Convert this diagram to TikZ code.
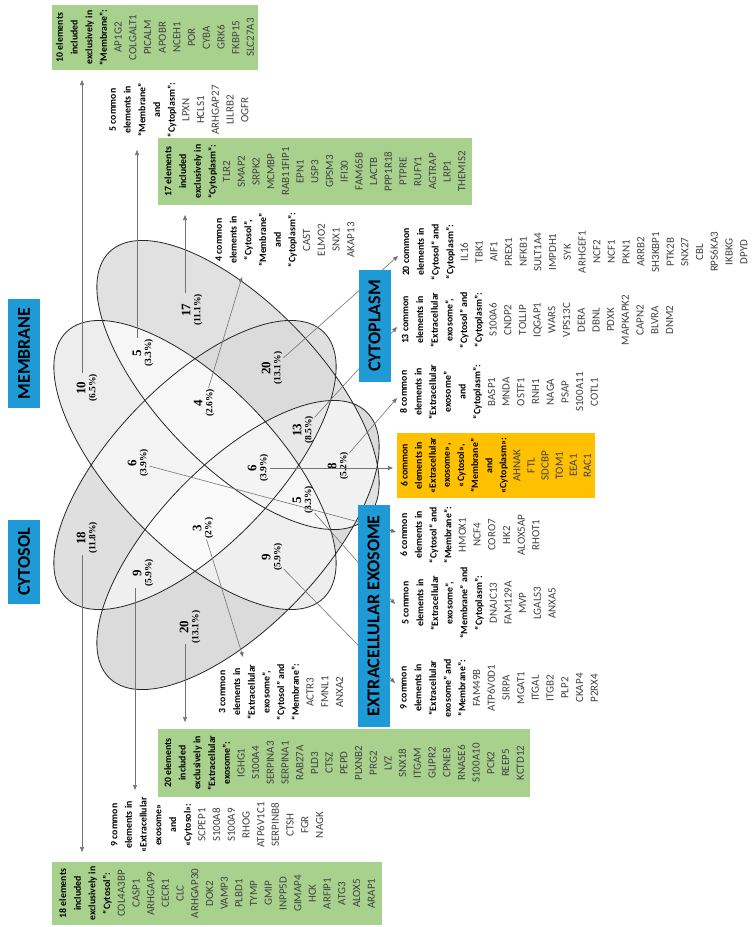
\documentclass[tikz,border=0pt]{standalone}
\usepackage{fontspec}
\setmainfont{Carlito}
\newfontfamily\numfont{Liberation Serif}
\usepackage{tikz}
\usetikzlibrary{arrows.meta}
\definecolor{setblue}{RGB}{30,155,215}
\definecolor{boxgreen}{RGB}{169,209,142}
\definecolor{boxorange}{RGB}{255,192,0}
\definecolor{genegray}{RGB}{64,64,64}
\newcommand{\hd}[1]{{\bfseries\color{black}\fontsize{9.8}{14.7}\selectfont #1}}
% the four ellipses as closed curves
\newcommand{\ExoEll}{(366.5,411.9) .. controls (398.7,443.0) and (367.3,527.8) .. (296.3,601.3) .. controls (225.3,674.8) and (141.7,709.2) .. (109.5,678.1) .. controls (77.3,647.0) and (108.7,562.2) .. (179.7,488.7) .. controls (250.7,415.2) and (334.3,380.8) .. cycle}
\newcommand{\CsEll}{(323.5,331.9) .. controls (355.7,363.0) and (324.3,447.8) .. (253.3,521.3) .. controls (182.3,594.8) and (98.7,629.2) .. (66.5,598.1) .. controls (34.3,567.0) and (65.7,482.2) .. (136.7,408.7) .. controls (207.7,335.2) and (291.3,300.8) .. cycle}
\newcommand{\MemEll}{(323.5,598.1) .. controls (355.7,567.0) and (324.3,482.2) .. (253.3,408.7) .. controls (182.3,335.2) and (98.7,300.8) .. (66.5,331.9) .. controls (34.3,363.0) and (65.7,447.8) .. (136.7,521.3) .. controls (207.7,594.8) and (291.3,629.2) .. cycle}
\newcommand{\CpEll}{(366.5,518.1) .. controls (398.7,487.0) and (367.3,402.2) .. (296.3,328.7) .. controls (225.3,255.2) and (141.7,220.8) .. (109.5,251.9) .. controls (77.3,283.0) and (108.7,367.8) .. (179.7,441.3) .. controls (250.7,514.8) and (334.3,549.2) .. cycle}
\newcommand{\vcell}[5]{%
  \begin{scope}
    \ifnum#1=1 \clip \ExoEll; \fi
    \ifnum#2=1 \clip \CsEll; \fi
    \ifnum#3=1 \clip \MemEll; \fi
    \ifnum#4=1 \clip \CpEll; \fi
    \fill[black!#5] (0,0) rectangle (754,927);
  \end{scope}}

\begin{document}
\begin{tikzpicture}[x=1pt, y=-1pt,
  num/.style={rotate=90, align=center, inner sep=1pt, font=\numfont\bfseries\fontsize{13}{10}\selectfont},
  lead/.style={draw=black!55, line width=0.6pt, -{Triangle[length=5pt,width=4pt]}},
  setname/.style={rotate=90, fill=setblue, inner sep=0pt, minimum height=32pt, font=\bfseries\fontsize{18}{22}\selectfont},
  genes/.style={rotate=90, align=center, inner sep=0pt, text=genegray, font=\fontsize{11}{14.7}\selectfont},
  greenbox/.style={genes, fill=boxgreen}]

\useasboundingbox (0,0) rectangle (754,927);

% Venn regions (Exo, Cytosol, Membrane, Cytoplasm), painted from single sets up, darker = more elements
\vcell{1}{0}{0}{0}{14}
\vcell{0}{1}{0}{0}{12.6}
\vcell{0}{0}{1}{0}{7}
\vcell{0}{0}{0}{1}{11.9}
\vcell{1}{1}{0}{0}{6.3}
\vcell{1}{0}{1}{0}{6.3}
\vcell{1}{0}{0}{1}{5.6}
\vcell{0}{1}{1}{0}{4.2}
\vcell{0}{1}{0}{1}{14}
\vcell{0}{0}{1}{1}{3.5}
\vcell{1}{1}{1}{0}{2.1}
\vcell{1}{1}{0}{1}{9.1}
\vcell{1}{0}{1}{1}{3.5}
\vcell{0}{1}{1}{1}{2.8}
\vcell{1}{1}{1}{1}{4.2}
\draw[line width=0.8pt, black!85] \ExoEll \CsEll \MemEll \CpEll;

\node[num] (n18) at (87,538) {18\\{\fontsize{9.5}{10}\selectfont(11.8\%)}};
\node[num] (n10) at (87,388) {10\\{\fontsize{9.5}{10}\selectfont(6.5\%)}};
\node[num] (n17) at (192,310) {17\\{\fontsize{9.5}{10}\selectfont(11.1\%)}};
\node[num] (n20e) at (190,627) {20\\{\fontsize{9.5}{10}\selectfont(13.1\%)}};
\node[num] (n5a) at (143,353) {5\\{\fontsize{9.5}{10}\selectfont(3.3\%)}};
\node[num] (n9a) at (143,573) {9\\{\fontsize{9.5}{10}\selectfont(5.9\%)}};
\node[num] (n20c) at (272,368) {20\\{\fontsize{9.5}{10}\selectfont(13.1\%)}};
\node[num] (n4) at (204,403) {4\\{\fontsize{9.5}{10}\selectfont(2.6\%)}};
\node[num] (n6a) at (138,463) {6\\{\fontsize{9.5}{10}\selectfont(3.9\%)}};
\node[num] (n6b) at (258,468) {6\\{\fontsize{9.5}{10}\selectfont(3.9\%)}};
\node[num] (n13) at (303,430) {13\\{\fontsize{9.5}{10}\selectfont(8.5\%)}};
\node[num] (n8) at (338,466) {8\\{\fontsize{9.5}{10}\selectfont(5.2\%)}};
\node[num] (n5b) at (303,500) {5\\{\fontsize{9.5}{10}\selectfont(3.3\%)}};
\node[num] (n3) at (203,528) {3\\{\fontsize{9.5}{10}\selectfont(2\%)}};
\node[num] (n9b) at (272,557) {9\\{\fontsize{9.5}{10}\selectfont(5.9\%)}};

\coordinate (t18) at (82,852);
\coordinate (t10) at (82,80);
\coordinate (t9a) at (135,790);
\coordinate (t20e) at (185,722);
\coordinate (t5a) at (137,150);
\coordinate (t17) at (185,215);
\coordinate (t3) at (243,657);
\coordinate (t4) at (242,277);
\coordinate (t20c) at (398,256);
\coordinate (t13) at (397,327);
\coordinate (t8) at (397,398);
\coordinate (t6b) at (393,468);
\coordinate (t6a) at (396,532);
\coordinate (t5b) at (395,604);
\coordinate (t9b) at (395,683);

\draw[lead] (t18 |- n18.west) -- (t18);
\draw[lead] (t10 |- n10.east) -- (t10);
\draw[lead] (t9a |- n9a.west) -- (t9a);
\draw[lead] (t20e |- n20e.west) -- (t20e);
\draw[lead] (t5a |- n5a.east) -- (t5a);
\draw[lead] (t17 |- n17.east) -- (t17);
\draw[lead] (n3) -- (t3);
\draw[lead] (n4) -- (t4);
\draw[lead] (n20c) -- (t20c);
\draw[lead] (n13) -- (t13);
\draw[lead] (n8) -- (t8);
\draw[lead] (n6b) -- (t6b);
\draw[lead] (n6a) -- (t6a);
\draw[lead] (n5b) -- (t5b);
\draw[lead] (n9b) -- (t9b);

\node[setname, minimum width=112pt] (cytoplasm) at (374.5,326) {CYTOPLASM};
\node[setname, minimum width=222pt] (exosome) at (373.5,616) {EXTRACELLULAR EXOSOME};
\node[setname, minimum width=84pt] (cytosol) at (24,562) {CYTOSOL};
\node[setname, minimum width=109pt] (membrane) at (24,353.5) {MEMBRANE};

% element lists
\node[greenbox, minimum width=63pt, minimum height=330pt] (b18) at (217,893.5) {\hd{18 elements}\\\hd{included}\\\hd{exclusively in}\\\hd{“Cytosol”:}\\COL4A3BP\\CASP1\\ARHGAP9\\CECR1\\CLC\\ARHGAP30\\DOK2\\VAMP3\\PLBD1\\TYMP\\GMIP\\INPP5D\\GIMAP4\\HCK\\ARFIP1\\ATG3\\ALOX5\\ARAP1};
\node[genes] (l9a) at (217,825) {\hd{9 common}\\\hd{elements in}\\\hd{«Extracellular}\\\hd{exosome»}\\\hd{and}\\\hd{«Cytosol»:}\\SCPEP1\\S100A8\\S100A9\\RHOG\\ATP6V1C1\\SERPINB8\\CTSH\\FGR\\NAGK};
\node[greenbox, minimum width=68pt, minimum height=372pt] (b20e) at (344,763) {\hd{20 elements}\\\hd{included}\\\hd{exclusively in}\\\hd{“Extracellular}\\\hd{exosome”:}\\IGHG1\\S100A4\\SERPINA3\\SERPINA1\\RAB27A\\PLD3\\CTSZ\\PEPD\\PLXNB2\\PRG2\\LYZ\\SNX18\\ITGAM\\GLIPR2\\CPNE8\\RNASE6\\S100A10\\PCK2\\REEP5\\KCTD12};
\node[genes] (l3) at (281,692) {\hd{3 common}\\\hd{elements in}\\\hd{“Extracellular}\\\hd{exosome”,}\\\hd{“Cytosol” and}\\\hd{“Membrane”:}\\ACTR3\\FMNL1\\ANXA2};
\node[genes] (l9b) at (499,688) {\hd{9 common}\\\hd{elements in}\\\hd{“Extracellular}\\\hd{exosome” and}\\\hd{“Membrane”:}\\FAM49B\\ATP6V0D1\\SIRPA\\MGAT1\\ITGAL\\ITGB2\\PLP2\\CKAP4\\P2RX4};
\node[genes] (l5b) at (479,603) {\hd{5 common}\\\hd{elements in}\\\hd{“Extracellular}\\\hd{exosome”,}\\\hd{“Membrane” and}\\\hd{“Cytoplasm”:}\\DNAJC13\\FAM129A\\MVP\\LGALS3\\ANXA5};
\node[genes] (l6a) at (470,535) {\hd{6 common}\\\hd{elements in}\\\hd{“Cytosol” and}\\\hd{“Membrane”:}\\HMOX1\\NCF4\\CORO7\\HK2\\ALOX5AP\\RHOT1};
\node[genes, fill=boxorange, minimum width=65pt, minimum height=198pt, font=\fontsize{11}{14.1}\selectfont] (b6) at (496,465.5) {\hd{6 common}\\\hd{elements in}\\\hd{«Extracellular}\\\hd{exosome»,}\\\hd{«Cytosol»,}\\\hd{“Membrane”}\\\hd{and}\\\hd{«Cytoplasm»:}\\AHNAK\\FTL\\SDCBP\\TOM1\\EEA1\\RAC1};
\node[genes] (l8) at (499,392) {\hd{8 common}\\\hd{elements in}\\\hd{“Extracellular}\\\hd{exosome”}\\\hd{and}\\\hd{“Cytoplasm”:}\\BASP1\\MNDA\\OSTF1\\RNH1\\NAGA\\PSAP\\S100A11\\COTL1};
\node[genes] (l13) at (537.5,320) {\hd{13 common}\\\hd{elements in}\\\hd{“Extracellular}\\\hd{exosome”,}\\\hd{“Cytosol” and}\\\hd{“Cytoplasm”:}\\S100A6\\CNDP2\\TOLLIP\\IQGAP1\\WARS\\VPS13C\\DERA\\DBNL\\PDXK\\MAPKAPK2\\CAPN2\\BLVRA\\DNM2};
\node[genes] (l20c) at (575,252) {\hd{20 common}\\\hd{elements in}\\\hd{“Cytosol” and}\\\hd{“Cytoplasm”:}\\IL16\\TBK1\\AIF1\\PREX1\\NFKB1\\SULT1A4\\IMPDH1\\SYK\\ARHGEF1\\NCF2\\NCF1\\PKN1\\ARRB2\\SH3KBP1\\PTK2B\\SNX27\\CBL\\RPS6KA3\\IKBKG\\DPYD};
\node[genes] (l4) at (285,240) {\hd{4 common}\\\hd{elements in}\\\hd{“Cytosol”,}\\\hd{“Membrane”}\\\hd{and}\\\hd{“Cytoplasm”:}\\CAST\\ELMO2\\SNX1\\AKAP13};
\node[greenbox, minimum width=67pt, minimum height=314pt] (b17) at (315,171.5) {\hd{17 elements}\\\hd{included}\\\hd{exclusively in}\\\hd{“Cytoplasm”:}\\TLR2\\SMAP2\\SRPK2\\MCMBP\\RAB11FIP1\\EPN1\\USP3\\GPSM3\\IFI30\\FAM65B\\LACTB\\PPP1R18\\PTPRE\\RUFY1\\AGTRAP\\LRP1\\THEMIS2};
\node[genes] (l5a) at (179,110) {\hd{5 common}\\\hd{elements in}\\\hd{“Membrane”}\\\hd{and}\\\hd{“Cytoplasm”:}\\LPXN\\HCLS1\\ARHGAP27\\LILRB2\\OGFR};
\node[greenbox, minimum width=65pt, minimum height=206pt] (b10) at (155,37.5) {\hd{10 elements}\\\hd{included}\\\hd{exclusively in}\\\hd{“Membrane”:}\\AP1G2\\COLGALT1\\PICALM\\APOBR\\NCEH1\\POR\\CYBA\\GRK6\\FKBP15\\SLC27A3};
\end{tikzpicture}
\end{document}
